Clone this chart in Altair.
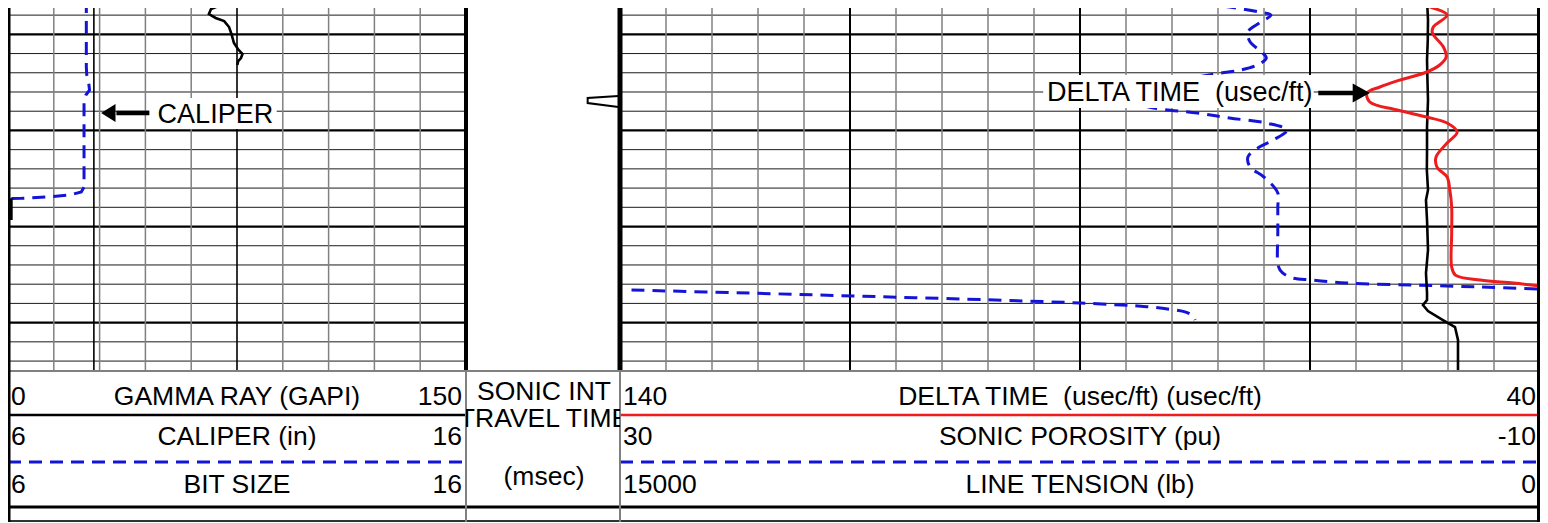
import altair as alt
import pandas as pd

# ------------------------------------------------------------------ data
# depth in ft (grid every 2 ft, heavy line every 10 ft)
GR_DEPTH = [5006.43, 5006.85, 5007.37, 5007.89, 5008.30, 5008.62, 5009.24, 5009.97,
            5010.90, 5011.53, 5012.05, 5012.47, 5012.78, 5013.19]
GR_API = [75.0, 70.5, 66.5, 65.8, 68.0, 70.8, 72.4, 73.2, 74.0, 75.3, 76.8, 76.3, 75.4, 75.1]

GR_STUB_DEPTH = [5027.06, 5029.32]
GR_STUB_API = [0.8, 0.8]

CAL_DEPTH = [5006.43, 5013.40, 5014.23, 5014.96, 5015.80, 5016.32, 5016.84, 5025.89,
             5026.41, 5026.72, 5026.93, 5027.06, 5027.08]
CAL_IN = [7.71, 7.71, 7.72, 7.76, 7.78, 7.70, 7.66, 7.66, 7.60, 7.35, 6.85, 6.30, 6.02]

BIT_DEPTH = [5006.43, 5044.93]
BIT_IN = [7.875, 7.875]

ITT_DEPTH = [5016.42, 5016.63, 5017.15, 5017.56]
ITT_MS = [9.9, 7.9, 7.9, 9.9]

DT_DEPTH = [5006.43, 5006.74, 5007.26, 5007.99, 5009.24, 5009.86, 5011.32, 5012.36,
            5013.19, 5013.92, 5014.75, 5015.48, 5016.11, 5017.04, 5017.88, 5018.61,
            5019.23, 5020.17, 5021.31, 5022.77, 5023.81, 5024.85, 5026.20, 5027.97,
            5030.68, 5034.21, 5035.05, 5035.57, 5035.88, 5036.19]
DT_US = [57.4, 53.8, 51.6, 50.1, 51.6, 51.7, 50.5, 50.2, 50.9, 52.3, 55.2, 57.4, 58.8,
         58.5, 55.5, 52.3, 50.1, 49.0, 50.1, 51.3, 51.2, 50.1, 49.8, 49.6, 49.6, 49.6,
         49.2, 46.5, 42.9, 40.0]

PHI_DEPTH = [5006.43, 5006.74, 5007.16, 5007.68, 5007.99, 5008.82, 5009.76, 5010.80,
             5011.84, 5012.47, 5013.19, 5013.71, 5014.03, 5014.44, 5015.28, 5016.32,
             5017.15, 5017.67, 5018.19, 5018.71, 5019.23, 5019.96, 5021.00, 5021.73,
             5022.77, 5023.81, 5024.85, 5026.51, 5027.97, 5030.68, 5033.80, 5034.53,
             5035.25, 5035.57, 5035.88, 5036.09, 5036.29, 5036.50]
PHI_PU = [6.5, 4.9, 3.5, 2.2, 1.7, 2.2, 2.7, 2.6, 2.1, 1.9, 2.3, 3.0, 3.9, 4.9, 7.4, 8.3,
          7.6, 6.8, 4.9, 3.5, 1.9, 1.0, 1.6, 2.2, 2.7, 2.6, 2.0, 1.4, 1.4, 1.4, 1.4, 1.3,
          0.9, -0.1, -1.6, -4.5, -7.4, -10.0]

PHI2_DEPTH = [5036.61, 5036.95, 5037.30, 5037.65, 5037.96, 5038.34, 5038.61, 5038.90,
              5039.31, 5039.73]
PHI2_PU = [29.5, 24.0, 18.8, 13.7, 10.0, 7.1, 6.1, 5.4, 5.1, 5.0]

TEN_DEPTH = [5006.43, 5008.51, 5010.59, 5012.67, 5014.75, 5016.84, 5019.65, 5022.04,
             5024.12, 5026.20, 5027.24, 5029.32, 5032.44, 5034.84, 5036.92, 5037.65,
             5038.17, 5038.79, 5039.73, 5040.46, 5041.81, 5044.93]
TEN_LB = [1842, 1826, 1830, 1842, 1835, 1826, 1842, 1842, 1845, 1826, 1859, 1842, 1826,
          1859, 1842, 1842, 1908, 1826, 1582, 1386, 1337, 1337]

TRACK1_HEAD = [("0", "GAMMA RAY (GAPI)", "150"),
               ("6", "CALIPER (in)", "16"),
               ("6", "BIT SIZE", "16")]
TRACK2_HEAD = ["SONIC INT", "TRAVEL TIME", "(msec)"]
TRACK3_HEAD = [("140", "DELTA TIME\u00a0 (usec/ft) (usec/ft)", "40"),
               ("30", "SONIC POROSITY (pu)", "-10"),
               ("15000", "LINE TENSION (lb)", "0")]

# ------------------------------------------------------------------ layout / style
W1, W2, W3 = 458, 154, 920
H_LOG, H_HEAD = 362, 152
D_TOP, D_BOT = 5007.26, 5044.93
BLUE = "#1414d8"
RED = "#ee1c1c"
BLACK = "#000000"
GRAY = "#808080"
FONT = "Liberation Sans"
DASH = [13, 8]

GRID_MINOR = [d for d in range(5008, 5046, 2) if d % 10 != 0]
GRID_MAJOR = [5010, 5020, 5030, 5040]
GR_MINOR = [v for v in range(15, 150, 15) if v != 75]
GR_MAJOR = [75]
DT_MINOR = [v for v in range(45, 140, 5) if (v - 40) % 25 != 0]
DT_MAJOR = [65, 90, 115]


def ydep():
    return alt.Y("depth:Q", axis=None,
                 scale=alt.Scale(domain=[D_TOP, D_BOT], reverse=True, nice=False, zero=False))


def xs(field, lo, hi, rev=False):
    return alt.X(f"{field}:Q", axis=None,
                 scale=alt.Scale(domain=[lo, hi], reverse=rev, nice=False, zero=False))


def curve(depths, vals, field, lo, hi, rev, color, width, dash=None, interp="linear"):
    df = pd.DataFrame({"depth": depths, field: vals})
    kw = dict(color=color, strokeWidth=width, clip=True, interpolate=interp)
    if dash:
        kw["strokeDash"] = dash
    return alt.Chart(df).mark_line(**kw).encode(
        x=xs(field, lo, hi, rev), y=ydep(), order=alt.Order("depth:Q"))


def hgrid():
    return [
        alt.Chart(pd.DataFrame({"depth": GRID_MINOR})).mark_rule(
            color="#1a1a1a", strokeWidth=1, clip=True).encode(y=ydep()),
        alt.Chart(pd.DataFrame({"depth": GRID_MAJOR})).mark_rule(
            color=BLACK, strokeWidth=2.2, clip=True).encode(y=ydep()),
    ]


def vgrid(vals, field, lo, hi, rev, color, width):
    return alt.Chart(pd.DataFrame({field: vals})).mark_rule(
        color=color, strokeWidth=width, clip=True).encode(x=xs(field, lo, hi, rev))


ONE = pd.DataFrame({"a": [0]})


def vborder(x, h, width, color=BLACK):
    return alt.Chart(ONE).mark_rule(color=color, strokeWidth=width, clip=True).encode(
        x=alt.value(x), y=alt.value(0), y2=alt.value(h))


def hline(y, w, width, color=BLACK, dash=None):
    kw = dict(color=color, strokeWidth=width, clip=True)
    if dash:
        kw["strokeDash"] = dash
    return alt.Chart(ONE).mark_rule(**kw).encode(
        x=alt.value(0), x2=alt.value(w), y=alt.value(y))


def label_box(field, lo, hi, rev, x1, x2, d1, d2):
    df = pd.DataFrame({field: [x1], field + "2": [x2], "depth": [d1], "depth2": [d2]})
    return alt.Chart(df).mark_rect(color="white", opacity=1, clip=True).encode(
        x=xs(field, lo, hi, rev), x2=alt.X2(field + "2"), y=ydep(), y2=alt.Y2("depth2"))


def label_text(field, lo, hi, rev, x, d, txt):
    df = pd.DataFrame({field: [x], "depth": [d]})
    return alt.Chart(df).mark_text(text=txt, align="left", baseline="alphabetic",
                                   font=FONT, fontSize=27, color=BLACK).encode(
        x=xs(field, lo, hi, rev), y=ydep())


def arrow(field, lo, hi, rev, x_from, x_to, x_tip, d, shape, size):
    shaft = alt.Chart(pd.DataFrame({field: [x_from, x_to], "depth": [d, d]})).mark_line(
        color=BLACK, strokeWidth=4.5).encode(x=xs(field, lo, hi, rev), y=ydep())
    head = alt.Chart(pd.DataFrame({field: [x_tip], "depth": [d]})).mark_point(
        shape=shape, filled=True, size=size, color=BLACK, opacity=1, strokeWidth=0).encode(
        x=xs(field, lo, hi, rev), y=ydep())
    return [shaft, head]


# ------------------------------------------------------------------ track 1 (GR / caliper)
t1_layers = hgrid() + [
    vgrid(GR_MINOR, "gr", 0, 150, False, GRAY, 1.5),
    vgrid(GR_MAJOR, "gr", 0, 150, False, BLACK, 1.6),
    curve(BIT_DEPTH, BIT_IN, "bit", 6, 16, False, BLACK, 1.6),
    curve(CAL_DEPTH, CAL_IN, "cal", 6, 16, False, BLUE, 3, DASH),
    curve(GR_DEPTH, GR_API, "gr", 0, 150, False, BLACK, 2.6),
    curve(GR_STUB_DEPTH, GR_STUB_API, "gr", 0, 150, False, BLACK, 4.5),
    label_box("gr", 0, 150, False, 46.2, 88.0, 5016.63, 5019.85),
    label_text("gr", 0, 150, False, 49.0, 5019.20, "CALIPER"),
] + arrow("gr", 0, 150, False, 35.5, 46.3, 30.5, 5018.19, "M0,0L1.6,-1L1.6,1Z", 324) + [
    vborder(0, H_LOG, 5),
    vborder(W1, H_LOG, 4),
]
track1 = alt.layer(*t1_layers).resolve_scale(x="independent").properties(width=W1, height=H_LOG)

# ------------------------------------------------------------------ track 2 (integrated travel time)
t2_layers = [
    curve(ITT_DEPTH, ITT_MS, "itt", 0, 10, False, BLACK, 2),
    vborder(0, H_LOG, 4),
    vborder(W2, H_LOG, 5),
]
track2 = alt.layer(*t2_layers).properties(width=W2, height=H_LOG)

# ------------------------------------------------------------------ track 3 (DT / porosity / tension)
t3_layers = hgrid() + [
    vgrid(DT_MINOR, "dt", 40, 140, True, GRAY, 1.5),
    vgrid(DT_MAJOR, "dt", 40, 140, True, BLACK, 2),
    curve(PHI_DEPTH, PHI_PU, "phi", -10, 30, True, BLUE, 3, DASH, "catmull-rom"),
    curve(PHI2_DEPTH, PHI2_PU, "phi", -10, 30, True, BLUE, 3, DASH, "catmull-rom"),
    curve(TEN_DEPTH, TEN_LB, "ten", 0, 15000, True, BLACK, 2.6),
    curve(DT_DEPTH, DT_US, "dt", 40, 140, True, RED, 3, None, "catmull-rom"),
    label_box("dt", 40, 140, True, 94.0, 64.6, 5014.23, 5017.67),
    label_text("dt", 40, 140, True, 93.6, 5016.91, "DELTA TIME\u00a0 (usec/ft)"),
] + arrow("dt", 40, 140, True, 64.1, 60.2, 58.5, 5016.11, "M0,0L-1.8,-1L-1.8,1Z", 361) + [
    vborder(0, H_LOG, 5),
    vborder(W3, H_LOG, 6),
]
track3 = alt.layer(*t3_layers).resolve_scale(x="independent").properties(width=W3, height=H_LOG)

# ------------------------------------------------------------------ headers
BASE = [35, 75, 123]
HFS = 26.5


def htext(x, y, txt, align, clip=False):
    return alt.Chart(ONE).mark_text(text=txt, align=align, baseline="alphabetic", font=FONT,
                                    fontSize=HFS, color=BLACK, clip=clip).encode(
        x=alt.value(x), y=alt.value(y))


def head_panel(rows, w, line_colors, left_w, right_w):
    layers = [hline(1, w, 2, GRAY),
              hline(45, w, 2.6, line_colors[0]),
              hline(92, w, 3, line_colors[1], DASH),
              hline(137, w, 3.2, BLACK),
              hline(151, w, 2, "#333333"),
              vborder(0, H_HEAD, left_w[0], left_w[1]),
              vborder(w, H_HEAD, right_w[0], right_w[1])]
    for (lft, mid, rgt), b in zip(rows, BASE):
        layers += [htext(3, b, lft, "left"), htext(w / 2, b, mid, "center"),
                   htext(w - 4, b, rgt, "right")]
    return alt.layer(*layers).properties(width=w, height=H_HEAD)


head1 = head_panel(TRACK1_HEAD, W1, [BLACK, BLUE], (5, BLACK), (2, GRAY))
head3 = head_panel(TRACK3_HEAD, W3, [RED, BLUE], (2, GRAY), (6, BLACK))

h2_layers = [hline(1, W2, 2, GRAY), hline(137, W2, 3.2, BLACK), hline(151, W2, 2, "#333333"),
             vborder(0, H_HEAD, 2, GRAY), vborder(W2, H_HEAD, 2, GRAY)]
for txt, b in zip(TRACK2_HEAD, [30, 57, 115]):
    h2_layers.append(htext(W2 / 2 + 1, b, txt, "center", clip=True))
head2 = alt.layer(*h2_layers).properties(width=W2, height=H_HEAD)

chart = alt.concat(track1, track2, track3, head1, head2, head3, columns=3, spacing=0) \
    .resolve_scale(x="independent", y="independent") \
    .properties(padding=0, bounds="flush") \
    .configure_view(strokeWidth=0)

chart.save("out.html", embed_options={"renderer": "svg", "actions": False})
